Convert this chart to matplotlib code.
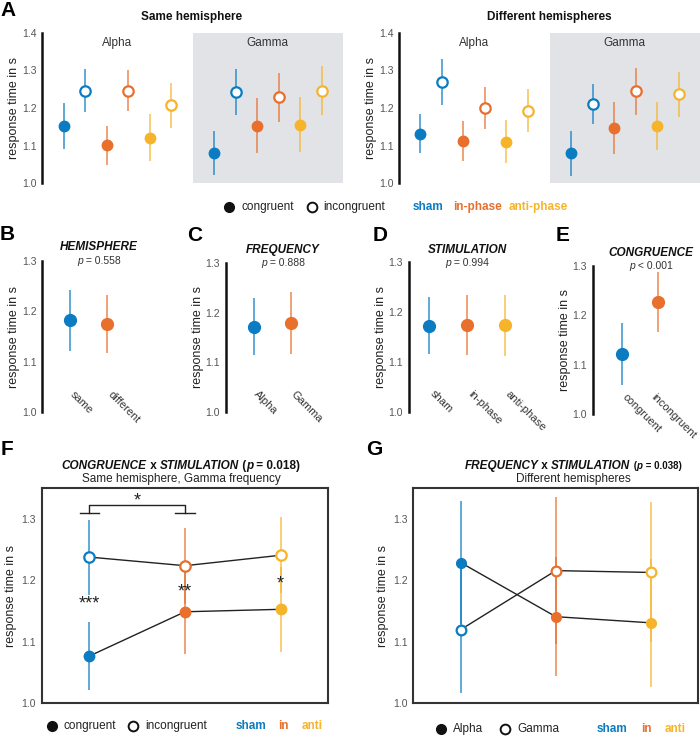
import matplotlib
matplotlib.use('Agg')
import matplotlib.pyplot as plt
from matplotlib.colors import to_rgba

plt.rcParams['font.family'] = ['Liberation Sans', 'DejaVu Sans']

# colours for sham / in-phase / anti-phase
stim_colors = ['#0b7cc1', '#e86f2c', '#f6b42a']

# Panel A: same hemisphere (sham, in-phase, anti-phase)
same_alpha_cong = [1.152, 1.101, 1.121]
same_alpha_cong_err = [0.060, 0.052, 0.063]
same_alpha_incong = [1.246, 1.246, 1.207]
same_alpha_incong_err = [0.057, 0.055, 0.060]
same_gamma_cong = [1.080, 1.153, 1.155]
same_gamma_cong_err = [0.058, 0.073, 0.073]
same_gamma_incong = [1.242, 1.228, 1.246]
same_gamma_incong_err = [0.062, 0.066, 0.065]

# Panel A: different hemispheres
diff_alpha_cong = [1.132, 1.112, 1.110]
diff_alpha_cong_err = [0.052, 0.054, 0.058]
diff_alpha_incong = [1.270, 1.199, 1.193]
diff_alpha_incong_err = [0.061, 0.056, 0.058]
diff_gamma_cong = [1.079, 1.147, 1.152]
diff_gamma_cong_err = [0.060, 0.070, 0.065]
diff_gamma_incong = [1.210, 1.244, 1.237]
diff_gamma_incong_err = [0.054, 0.062, 0.060]

# Panels B-E: main effects
hemi_labels = ['same', 'different']
hemi_means = [1.182, 1.175]
hemi_err = [0.060, 0.058]
freq_labels = ['Alpha', 'Gamma']
freq_means = [1.172, 1.179]
freq_err = [0.057, 0.063]
stim_labels = ['sham', 'in-phase', 'anti-phase']
stim_means = [1.172, 1.174, 1.173]
stim_err = [0.057, 0.060, 0.061]
cong_labels = ['congruent', 'incongruent']
cong_means = [1.122, 1.227]
cong_err = [0.062, 0.060]

# Panel F: congruence x stimulation (same hemisphere, gamma)
f_cong = [1.077, 1.149, 1.153]
f_cong_err = [0.055, 0.069, 0.069]
f_incong = [1.238, 1.224, 1.241]
f_incong_err = [0.061, 0.062, 0.062]
f_stars = ['***', '**', '*']

# Panel G: frequency x stimulation (different hemispheres)
g_alpha = [1.229, 1.141, 1.131]
g_alpha_err = [0.100, 0.097, 0.104]
g_gamma = [1.120, 1.216, 1.213]
g_gamma_err = [0.104, 0.120, 0.114]

W, H = 700, 737
fig = plt.figure(figsize=(W / 100, H / 100), dpi=100)


def px_axes(left, top, width, height):
    return fig.add_axes([left / W, 1 - (top + height) / H, width / W, height / H])


# overlay axes in pixel coordinates for labels and legends
ov = fig.add_axes([0, 0, 1, 1], zorder=10)
ov.set_xlim(0, W)
ov.set_ylim(H, 0)
ov.axis('off')
ov.patch.set_visible(False)


def rich(xc, y, parts, color='#111'):
    texts = []
    for s, weight, style, size in parts:
        texts.append(ov.text(0, y, s, fontsize=size, fontweight=weight, fontstyle=style,
                             ha='left', va='center', color=color))
    r = fig.canvas.get_renderer()
    widths = [t.get_window_extent(r).width for t in texts]
    x = xc - sum(widths) / 2
    for t, w in zip(texts, widths):
        t.set_x(x)
        x += w


def point(ax, x, y, e, c, filled, ms=7.5):
    ax.errorbar(x, y, yerr=e, fmt='o', color=c, ecolor=to_rgba(c, 0.7), elinewidth=1.3,
                ms=ms, mfc=c if filled else 'white', mec=c, mew=1.6 if not filled else 1,
                capsize=0, zorder=3)


def left_spine_only(ax, ylim, ticks):
    ax.set_ylim(*ylim)
    for s in ['top', 'right', 'bottom']:
        ax.spines[s].set_visible(False)
    ax.spines['left'].set_linewidth(1.8)
    ax.spines['left'].set_color('#111')
    ax.set_xticks([])
    ax.set_yticks(ticks)
    ax.set_yticklabels([f'{t:.1f}' for t in ticks])
    ax.tick_params(axis='y', length=0, labelsize=7.5, labelcolor='#555', pad=4)
    ax.set_ylabel('response time in s', fontsize=9, color='#222', labelpad=1)
    ax.patch.set_visible(False)


# ---- Panel A ----
a_sets = [
    (42, 'Same hemisphere',
     [(same_alpha_cong, same_alpha_cong_err, same_alpha_incong, same_alpha_incong_err),
      (same_gamma_cong, same_gamma_cong_err, same_gamma_incong, same_gamma_incong_err)]),
    (399, 'Different hemispheres',
     [(diff_alpha_cong, diff_alpha_cong_err, diff_alpha_incong, diff_alpha_incong_err),
      (diff_gamma_cong, diff_gamma_cong_err, diff_gamma_incong, diff_gamma_incong_err)]),
]
for left, title, groups in a_sets:
    ax = px_axes(left, 33, 301, 150)
    ax.set_xlim(0, 14)
    left_spine_only(ax, (1.0, 1.4), [1.0, 1.1, 1.2, 1.3, 1.4])
    ax.axvspan(7, 14, color='#e2e3e7', lw=0, zorder=0)
    for gi, (cm, ce, im, ie) in enumerate(groups):
        for i, c in enumerate(stim_colors):
            point(ax, 1 + 2 * i + 7 * gi, cm[i], ce[i], c, True)
            point(ax, 2 + 2 * i + 7 * gi, im[i], ie[i], c, False)
    ax.text(3.5, 1.373, 'Alpha', ha='center', va='center', fontsize=8.5, color='#333')
    ax.text(10.5, 1.373, 'Gamma', ha='center', va='center', fontsize=8.5, color='#333')
    ov.text(left + 150, 17, title, ha='center', va='center', fontsize=8.5, fontweight='bold', color='#111')

ov.text(8, 10, 'A', ha='center', va='center', fontsize=15, fontweight='bold')

# legend row under A
ov.plot([229], [207], 'o', color='#111', ms=7)
ov.text(241, 207, 'congruent', va='center', fontsize=8.5, color='#222')
ov.plot([312], [207], 'o', mfc='white', mec='#111', mew=1.4, ms=7)
ov.text(323, 207, 'incongruent', va='center', fontsize=8.5, color='#222')
for x, s, c in zip([413, 453, 509], ['sham', 'in-phase', 'anti-phase'], stim_colors):
    ov.text(x, 207, s, va='center', fontsize=8.5, fontweight='bold', color=c)

# ---- Panels B-E ----
small = [
    ('B', (42, 261, 114, 151), (0.24, 3.32), 'HEMISPHERE', 'p = 0.558', hemi_labels, hemi_means, hemi_err,
     stim_colors[:2], (7, 234), (99, 247, 261), [0, 0]),
    ('C', (225.7, 263, 114.6, 149), (0.23, 3.35), 'FREQUENCY', 'p = 0.888', freq_labels, freq_means, freq_err,
     stim_colors[:2], (195, 235), (283, 250, 263), [0, 0]),
    ('D', (408.7, 262, 116.6, 149.7), (0.45, 3.54), 'STIMULATION', 'p = 0.994', stim_labels, stim_means, stim_err,
     stim_colors, (380, 235), (467, 250, 263), [0, 0, 0]),
    ('E', (592.7, 266, 107, 148.3), (0.21, 3.13), 'CONGRUENCE', 'p < 0.001', cong_labels, cong_means, cong_err,
     stim_colors[:2], (563, 235), (651, 253, 266), [0, -0.2]),
]
for letter, rect, xlim, name, ptxt, labels, means, errs, cols, lpos, tpos, ldx in small:
    ax = px_axes(*rect)
    ax.set_xlim(*xlim)
    left_spine_only(ax, (1.0, 1.3), [1.0, 1.1, 1.2, 1.3])
    for i, (m, e) in enumerate(zip(means, errs)):
        point(ax, i + 1, m, e, cols[i], True, ms=8.5)
        ax.text(i + 1.15 + ldx[i], 1.046, labels[i], rotation=-45, ha='left', va='top',
                rotation_mode='anchor', fontsize=8, color='#333', clip_on=False)
    ov.text(lpos[0], lpos[1], letter, ha='center', va='center', fontsize=15, fontweight='bold')
    ov.text(tpos[0], tpos[1], name, ha='center', va='center', fontsize=8.5, fontweight='bold',
            fontstyle='italic', color='#111')
    rich(tpos[0], tpos[2], [('p', 'normal', 'italic', 7.5), (ptxt[1:], 'normal', 'normal', 7.5)], color='#333')


def box_axes(ax):
    ax.set_xlim(0.5, 3.5)
    ax.set_ylim(1.0, 1.35)
    for s in ax.spines.values():
        s.set_linewidth(1.5)
        s.set_color('#333')
    ax.set_xticks([])
    ax.set_yticks([1.0, 1.1, 1.2, 1.3])
    ax.set_yticklabels(['1.0', '1.1', '1.2', '1.3'])
    ax.tick_params(axis='y', length=0, labelsize=7.5, labelcolor='#555', pad=4)
    ax.set_ylabel('response time in s', fontsize=9, color='#222', labelpad=3)


xs = [1, 2, 3]

# ---- Panel F ----
ax = px_axes(41.7, 488.3, 286.6, 215)
box_axes(ax)
ax.plot(xs, f_cong, color='#222', lw=1, zorder=1)
ax.plot(xs, f_incong, color='#222', lw=1, zorder=1)
for i, c in enumerate(stim_colors):
    point(ax, xs[i], f_incong[i], f_incong_err[i], c, False, ms=7.5)
    point(ax, xs[i], f_cong[i], f_cong_err[i], c, True, ms=7.5)
for x, s, y in zip(xs, f_stars, [1.162, 1.182, 1.195]):
    ax.text(x, y, s, ha='center', va='center', fontsize=13, color='#222')
ax.plot([1, 1, 2, 2], [1.309, 1.322, 1.322, 1.309], color='#222', lw=1)
ax.plot([0.9, 1.1], [1.309, 1.309], color='#222', lw=1)
ax.plot([1.9, 2.1], [1.309, 1.309], color='#222', lw=1)
ax.text(1.5, 1.330, '*', ha='center', va='center', fontsize=13, color='#222')

ov.text(6.5, 449.5, 'F', ha='center', va='center', fontsize=15, fontweight='bold')
rich(181, 466, [('CONGRUENCE', 'bold', 'italic', 8.5), (' x ', 'bold', 'normal', 8.5),
                ('STIMULATION', 'bold', 'italic', 8.5), (' (', 'bold', 'normal', 8.5),
                ('p', 'bold', 'italic', 8.5), (' = 0.018)', 'bold', 'normal', 8.5)])
ov.text(181, 479, 'Same hemisphere, Gamma frequency', ha='center', va='center', fontsize=8.5, color='#222')

ov.plot([51.7], [726], 'o', color='#111', ms=7)
ov.text(63, 726, 'congruent', va='center', fontsize=8.5, color='#222')
ov.plot([133], [726], 'o', mfc='white', mec='#111', mew=1.4, ms=7)
ov.text(145, 726, 'incongruent', va='center', fontsize=8.5, color='#222')
for x, s, c in zip([235.7, 278, 301.7], ['sham', 'in', 'anti'], stim_colors):
    ov.text(x, 726, s, va='center', fontsize=8.5, fontweight='bold', color=c)

# ---- Panel G ----
ax = px_axes(413.3, 488.3, 285, 215)
box_axes(ax)
ax.plot(xs, g_alpha, color='#222', lw=1, zorder=1)
ax.plot(xs, g_gamma, color='#222', lw=1, zorder=1)
for i, c in enumerate(stim_colors):
    point(ax, xs[i], g_alpha[i], g_alpha_err[i], c, True, ms=7)
    point(ax, xs[i], g_gamma[i], g_gamma_err[i], c, False, ms=7)

ov.text(374.5, 449.5, 'G', ha='center', va='center', fontsize=15, fontweight='bold')
rich(573, 466, [('FREQUENCY', 'bold', 'italic', 8.5), (' x ', 'bold', 'normal', 8.5),
                ('STIMULATION', 'bold', 'italic', 8.5), (' (', 'bold', 'normal', 7),
                ('p', 'bold', 'italic', 7), (' = 0.038)', 'bold', 'normal', 7)])
ov.text(573, 479, 'Different hemispheres', ha='center', va='center', fontsize=8.5, color='#222')

ov.plot([440.7], [729], 'o', color='#111', ms=7)
ov.text(453, 729, 'Alpha', va='center', fontsize=8.5, color='#222')
ov.plot([505.3], [729], 'o', mfc='white', mec='#111', mew=1.4, ms=7)
ov.text(517, 729, 'Gamma', va='center', fontsize=8.5, color='#222')
for x, s, c in zip([597, 640.7, 664.3], ['sham', 'in', 'anti'], stim_colors):
    ov.text(x, 729, s, va='center', fontsize=8.5, fontweight='bold', color=c)

fig.savefig('out.png', dpi=100)
